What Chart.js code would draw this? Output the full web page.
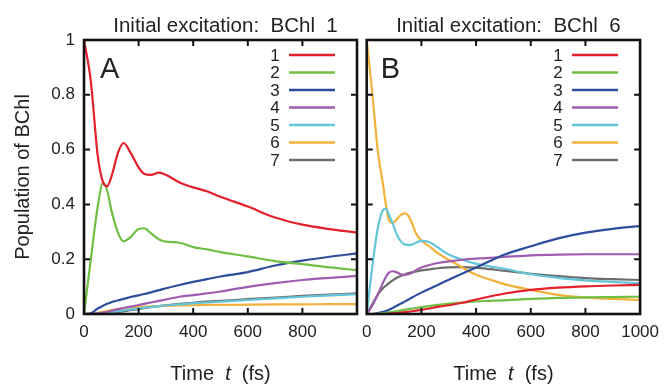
<!DOCTYPE html>
<html lang="en">
<head>
<meta charset="UTF-8">
<title>BChl populations</title>
<script src="https://cdn.jsdelivr.net/npm/chart.js"></script>
<style>
  body { margin: 0; background: #fff; overflow: hidden; }
  #wrap { position: relative; width: 664px; height: 384px; overflow: hidden; }
  canvas { position: absolute; top: 0; }
  #chartA { left: 0; }
  #chartB { left: 354px; }
</style>
</head>
<body>
<div id="wrap">
  <canvas id="chartA" width="365" height="384"></canvas>
  <canvas id="chartB" width="313" height="384"></canvas>
</div>
<script>
const FONT = '"Liberation Sans", Arial, sans-serif';
const siteLabels = ['1', '2', '3', '4', '5', '6', '7'];
const colors = ['#e3202b', '#70bf45', '#2d4e9c', '#a05cb0', '#63c5d8', '#f2b13a', '#6d6d6d'];

// panel A: initial excitation on BChl 1
const timeA = [0, 25, 50, 70, 85, 100, 125, 145, 170, 200, 220, 245, 275, 300, 350, 400, 450, 500, 600, 700, 800, 900, 1000];
const a1 = [1.0, 0.85, 0.58, 0.48, 0.466, 0.50, 0.59, 0.624, 0.59, 0.535, 0.512, 0.508, 0.516, 0.508, 0.48, 0.462, 0.448, 0.428, 0.392, 0.352, 0.326, 0.31, 0.297];
const a2 = [0, 0.2, 0.39, 0.48, 0.45, 0.38, 0.295, 0.265, 0.28, 0.31, 0.313, 0.295, 0.272, 0.264, 0.26, 0.244, 0.236, 0.226, 0.21, 0.193, 0.182, 0.17, 0.16];
const a3 = [0, 0.003, 0.02, 0.03, 0.037, 0.043, 0.05, 0.055, 0.062, 0.068, 0.073, 0.079, 0.087, 0.094, 0.106, 0.117, 0.127, 0.137, 0.153, 0.177, 0.195, 0.209, 0.221];
const a4 = [0, 0, 0.002, 0.005, 0.008, 0.012, 0.018, 0.022, 0.027, 0.033, 0.037, 0.042, 0.048, 0.053, 0.063, 0.069, 0.075, 0.082, 0.099, 0.113, 0.124, 0.132, 0.139];
const a5 = [0, 0, 0.001, 0.003, 0.005, 0.007, 0.01, 0.013, 0.017, 0.02, 0.023, 0.026, 0.029, 0.031, 0.035, 0.039, 0.042, 0.045, 0.051, 0.057, 0.063, 0.068, 0.072];
const a6 = [0, 0.001, 0.004, 0.008, 0.011, 0.014, 0.018, 0.021, 0.024, 0.026, 0.027, 0.028, 0.029, 0.03, 0.031, 0.032, 0.033, 0.033, 0.034, 0.035, 0.035, 0.036, 0.036];
const a7 = [0, 0, 0, 0.001, 0.002, 0.004, 0.007, 0.01, 0.014, 0.018, 0.021, 0.025, 0.029, 0.032, 0.037, 0.041, 0.045, 0.048, 0.054, 0.06, 0.066, 0.071, 0.075];

// panel B: initial excitation on BChl 6
const timeB = [0, 20, 40, 60, 70, 80, 95, 110, 125, 142, 160, 180, 200, 230, 260, 300, 350, 400, 450, 500, 600, 700, 800, 900, 1000];
const b1 = [0, 0, 0, 0, 0, 0.001, 0.002, 0.003, 0.005, 0.007, 0.009, 0.012, 0.015, 0.02, 0.026, 0.032, 0.041, 0.053, 0.064, 0.074, 0.088, 0.096, 0.101, 0.104, 0.106];
const b2 = [0, 0, 0.001, 0.003, 0.004, 0.006, 0.008, 0.01, 0.013, 0.016, 0.019, 0.022, 0.025, 0.029, 0.033, 0.038, 0.042, 0.046, 0.048, 0.05, 0.055, 0.059, 0.061, 0.062, 0.063];
const b3 = [0, 0, 0.003, 0.008, 0.011, 0.015, 0.022, 0.03, 0.038, 0.047, 0.057, 0.068, 0.078, 0.092, 0.106, 0.125, 0.148, 0.17, 0.193, 0.215, 0.247, 0.276, 0.297, 0.311, 0.321];
const b4 = [0, 0.03, 0.07, 0.115, 0.135, 0.15, 0.156, 0.152, 0.145, 0.143, 0.148, 0.16, 0.17, 0.179, 0.186, 0.192, 0.198, 0.202, 0.205, 0.208, 0.214, 0.217, 0.218, 0.218, 0.218];
const b5 = [0, 0.17, 0.31, 0.38, 0.385, 0.365, 0.33, 0.29, 0.265, 0.253, 0.252, 0.26, 0.267, 0.262, 0.243, 0.217, 0.198, 0.183, 0.174, 0.166, 0.145, 0.132, 0.123, 0.117, 0.112];
const b6 = [1.0, 0.81, 0.6, 0.47, 0.4, 0.345, 0.333, 0.345, 0.362, 0.367, 0.345, 0.295, 0.268, 0.246, 0.222, 0.198, 0.17, 0.143, 0.126, 0.11, 0.088, 0.07, 0.06, 0.055, 0.051];
const b7 = [0, 0.035, 0.07, 0.095, 0.103, 0.112, 0.123, 0.132, 0.139, 0.146, 0.151, 0.155, 0.159, 0.163, 0.167, 0.17, 0.171, 0.169, 0.164, 0.158, 0.147, 0.138, 0.131, 0.127, 0.124];

function makeSets(times, series) {
  return series.map((vals, i) => ({
    label: siteLabels[i],
    data: times.map((t, k) => ({ x: t, y: vals[k] })),
    borderColor: colors[i],
    backgroundColor: colors[i],
    borderWidth: 2.2,
    pointRadius: 0,
    cubicInterpolationMode: 'monotone'
  }));
}

// frame, inward ticks, legend, panel letter, titles
const panelDecor = {
  id: 'panelDecor',
  afterDraw(chart, args, o) {
    const ctx = chart.ctx;
    const a = chart.chartArea;
    const xs = chart.scales.x, ys = chart.scales.y;
    ctx.save();
    ctx.strokeStyle = '#111';
    ctx.lineWidth = 2;
    ctx.beginPath();
    xs.ticks.forEach(t => {
      if (t.value <= 0 || t.value >= 1000) return;
      const px = xs.getPixelForValue(t.value);
      ctx.moveTo(px, a.bottom); ctx.lineTo(px, a.bottom - 6);
      ctx.moveTo(px, a.top); ctx.lineTo(px, a.top + 6);
    });
    ys.ticks.forEach(t => {
      if (t.value <= 0 || t.value >= 1) return;
      const py = ys.getPixelForValue(t.value);
      ctx.moveTo(a.left, py); ctx.lineTo(a.left + 6, py);
      ctx.moveTo(a.right, py); ctx.lineTo(a.right - 6, py);
    });
    ctx.stroke();
    ctx.lineWidth = 2.6;
    ctx.strokeRect(a.left, a.top, a.right - a.left, a.bottom - a.top);

    ctx.fillStyle = '#222';
    // panel letter
    ctx.font = '29px ' + FONT;
    ctx.textAlign = 'left';
    ctx.textBaseline = 'alphabetic';
    ctx.fillText(o.letter, a.left + o.letterDx, a.top + 38);

    // legend: number then line
    ctx.font = '17px ' + FONT;
    chart.data.datasets.forEach((ds, i) => {
      const y = a.top + 15 + i * 17.5;
      ctx.fillStyle = '#222';
      ctx.textAlign = 'center';
      ctx.textBaseline = 'middle';
      ctx.fillText(ds.label, a.right - 82, y + 1);
      ctx.strokeStyle = ds.borderColor;
      ctx.lineWidth = 2.4;
      ctx.beginPath();
      ctx.moveTo(a.right - 68, y);
      ctx.lineTo(a.right - 22, y);
      ctx.stroke();
    });

    // panel title
    ctx.fillStyle = '#222';
    ctx.font = '20.5px ' + FONT;
    ctx.textAlign = 'center';
    ctx.textBaseline = 'alphabetic';
    ctx.fillText(o.title, (a.left + a.right) / 2 + 5, 32);

    // x axis title with italic t
    const parts = [['Time  ', 'normal'], ['t', 'italic'], ['  (fs)', 'normal']];
    const fsz = '20px ';
    let total = 0;
    parts.forEach(p => { ctx.font = p[1] + ' ' + fsz + FONT; total += ctx.measureText(p[0]).width; });
    let x = (a.left + a.right) / 2 - total / 2;
    ctx.textAlign = 'left';
    parts.forEach(p => {
      ctx.font = p[1] + ' ' + fsz + FONT;
      ctx.fillText(p[0], x, 380);
      x += ctx.measureText(p[0]).width;
    });
    ctx.restore();
  }
};

function makeChart(id, times, series, cfg) {
  return new Chart(document.getElementById(id), {
    type: 'line',
    data: { datasets: makeSets(times, series) },
    plugins: [panelDecor],
    options: {
      responsive: false,
      animation: false,
      layout: { padding: { top: 40, left: 0, right: cfg.padRight, bottom: 0 } },
      plugins: {
        legend: { display: false },
        tooltip: { enabled: false },
        panelDecor: { letter: cfg.letter, letterDx: cfg.letterDx, title: cfg.title }
      },
      scales: {
        x: {
          type: 'linear', min: 0, max: 1000,
          grid: { display: false, drawTicks: false },
          border: { display: false },
          ticks: {
            stepSize: 200, autoSkip: false, maxRotation: 0, padding: 8,
            color: '#222', font: { size: 17, family: FONT },
            callback: v => (v === 1000 && !cfg.showLast) ? '' : String(v)
          },
          afterFit: s => { s.height = 70; }
        },
        y: {
          min: 0, max: 1,
          grid: { display: false, drawTicks: false },
          border: { display: false },
          ticks: {
            stepSize: 0.2, padding: 9, display: cfg.yLabels,
            color: '#222', font: { size: 17, family: FONT },
            callback: v => String(Math.round(v * 10) / 10)
          },
          title: {
            display: cfg.yLabels, text: 'Population of BChl', color: '#222',
            font: { size: 20, family: FONT }, padding: { top: 11, bottom: 0 }
          },
          afterFit: s => { s.width = cfg.yWidth; }
        }
      }
    }
  });
}

makeChart('chartA', timeA, [a1, a2, a3, a4, a5, a6, a7],
  { letter: 'A', letterDx: 16, title: 'Initial excitation:  BChl  1', padRight: 3, showLast: false, yLabels: true, yWidth: 84 });
makeChart('chartB', timeB, [b1, b2, b3, b4, b5, b6, b7],
  { letter: 'B', letterDx: 14, title: 'Initial excitation:  BChl  6', padRight: 25, showLast: true, yLabels: false, yWidth: 6 });
</script>
</body>
</html>
